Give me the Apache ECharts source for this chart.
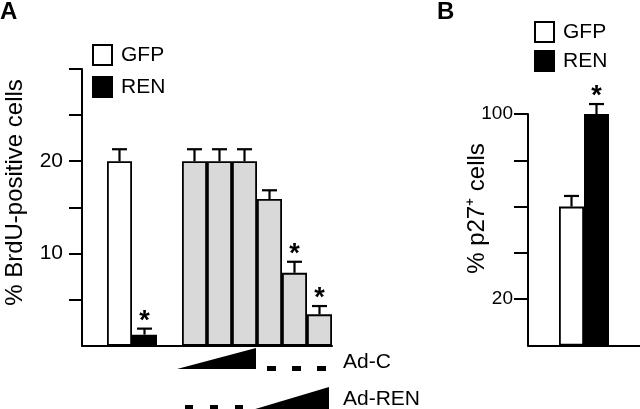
<!DOCTYPE html>
<html>
<head>
<meta charset="utf-8">
<script src="https://cdn.jsdelivr.net/npm/echarts@6/dist/echarts.min.js"></script>
<style>
html,body{margin:0;padding:0;background:#fff;}
#chart{width:640px;height:409px;}
</style>
</head>
<body>
<div id="chart"></div>
<script>
// ---------- Panel A data ----------
const categoriesA = ['', 'GFP', 'REN', '', 'Ad-C 1', 'Ad-C 2', 'Ad-C 3', 'Ad-REN 1', 'Ad-REN 2', 'Ad-REN 3'];
const groupA      = ['', 'GFP', 'REN', '', 'Ad', 'Ad', 'Ad', 'Ad', 'Ad', 'Ad'];
const valuesA     = [null, 20, 1.2, null, 20, 20, 20, 15.9, 7.9, 3.4];
const errorsA     = [null, 1.3, 0.65, null, 1.3, 1.3, 1.3, 0.95, 1.2, 0.9];
const sigA        = [0, 0, 1, 0, 0, 0, 0, 0, 1, 1];
const yTicksA     = [5, 10, 15, 20, 25, 30];
const yLabelsA    = [10, 20];

// ---------- Panel B data ----------
const categoriesB = ['GFP', 'REN'];
const valuesB     = [60, 100];
const errorsB     = [4.6, 4.3];
const sigB        = [0, 1];
const yTicksB     = [20, 40, 60, 80, 100];
const yLabelsB    = [20, 100];

const FONT = "'Liberation Sans', Arial, Helvetica, sans-serif";
const BAR_W = 25;

function seriesDataA(g) {
  return valuesA.map((v, i) => (groupA[i] === g && v != null) ? v : '-');
}
const errDataA = [];
valuesA.forEach((v, i) => { if (v != null) errDataA.push([i, v, errorsA[i], sigA[i], 0]); });
const errDataB = valuesB.map((v, i) => [0, v, errorsB[i], sigB[i], i - 0.5]);

function errRender(params, api) {
  const x = api.value(0), v = api.value(1), e = api.value(2), sig = api.value(3), side = api.value(4);
  const base = api.coord([x, v]);
  const top = api.coord([x, v + e]);
  const cx = base[0] + side * BAR_W;
  const children = [
    {type: 'line', shape: {x1: cx, y1: base[1], x2: cx, y2: top[1]}, style: {stroke: '#000', lineWidth: 2.2}},
    {type: 'line', shape: {x1: cx - 7.5, y1: top[1], x2: cx + 7.5, y2: top[1]}, style: {stroke: '#000', lineWidth: 2.2}}
  ];
  if (sig) {
    children.push({type: 'text', style: {text: '*', x: cx, y: top[1] - 14 + 7, align: 'center', verticalAlign: 'middle',
      fontSize: 27, fontWeight: 'bold', fontFamily: FONT, fill: '#000'}});
  }
  return {type: 'group', children: children};
}

const axisLineStyle = {show: true, lineStyle: {color: '#000', width: 2}};
const legendText = {fontSize: 21, color: '#000', fontFamily: FONT, padding: [0, 0, 0, 4], lineHeight: 20};

const chart = echarts.init(document.getElementById('chart'), null, {renderer: 'canvas'});
chart.setOption({
  animation: false,
  backgroundColor: '#fff',
  textStyle: {fontFamily: FONT},
  grid: [
    {left: 82, top: 69, width: 250, height: 276.7},
    {left: 528, top: 114, right: 0, height: 231.5}
  ],
  legend: [
    {data: ['GFP', 'REN'], orient: 'vertical', left: 92, top: 44, padding: 0, itemWidth: 19, itemHeight: 20, itemGap: 10,
     icon: 'rect', selectedMode: false, textStyle: legendText},
    {data: ['GFP', 'REN'], orient: 'vertical', left: 534, top: 21, padding: 0, itemWidth: 19, itemHeight: 20, itemGap: 7,
     icon: 'rect', selectedMode: false, textStyle: legendText}
  ],
  xAxis: [
    {type: 'category', gridIndex: 0, data: categoriesA, axisLine: axisLineStyle, axisTick: {show: false}, axisLabel: {show: false}},
    {type: 'category', gridIndex: 1, data: [''], axisLine: axisLineStyle, axisTick: {show: false}, axisLabel: {show: false}}
  ],
  yAxis: [
    {type: 'value', gridIndex: 0, min: 0, max: 30, interval: 5, axisLine: axisLineStyle, splitLine: {show: false},
     axisTick: {show: true, length: 13, lineStyle: {color: '#000', width: 2}, customValues: yTicksA},
     axisLabel: {margin: 19, fontSize: 21, color: '#000', fontFamily: FONT, customValues: yLabelsA}},
    {type: 'value', gridIndex: 1, min: 0, max: 100, interval: 20, axisLine: axisLineStyle, splitLine: {show: false},
     axisTick: {show: true, length: 14, lineStyle: {color: '#000', width: 2}, customValues: yTicksB},
     axisLabel: {margin: 15, fontSize: 19, color: '#000', fontFamily: FONT, customValues: yLabelsB}}
  ],
  series: [
    {name: 'GFP', type: 'bar', xAxisIndex: 0, yAxisIndex: 0, barWidth: BAR_W, barGap: '-100%', data: seriesDataA('GFP'),
     itemStyle: {color: '#fff', borderColor: '#000', borderWidth: 1.8}},
    {name: 'REN', type: 'bar', xAxisIndex: 0, yAxisIndex: 0, barWidth: BAR_W, barGap: '-100%', data: seriesDataA('REN'),
     itemStyle: {color: '#000', borderColor: '#000', borderWidth: 1.8}},
    {name: 'Ad', type: 'bar', xAxisIndex: 0, yAxisIndex: 0, barWidth: BAR_W, barGap: '-100%', data: seriesDataA('Ad'),
     itemStyle: {color: '#d9d9d9', borderColor: '#000', borderWidth: 1.8}},
    {name: 'errA', type: 'custom', xAxisIndex: 0, yAxisIndex: 0, data: errDataA, renderItem: errRender, z: 5},
    {name: 'GFP', type: 'bar', xAxisIndex: 1, yAxisIndex: 1, barWidth: BAR_W, barGap: '0%', data: [valuesB[0]],
     itemStyle: {color: '#fff', borderColor: '#000', borderWidth: 1.8}},
    {name: 'REN', type: 'bar', xAxisIndex: 1, yAxisIndex: 1, barWidth: BAR_W, barGap: '0%', data: [valuesB[1]],
     itemStyle: {color: '#000', borderColor: '#000', borderWidth: 1.8}},
    {name: 'errB', type: 'custom', xAxisIndex: 1, yAxisIndex: 1, data: errDataB, renderItem: errRender, z: 5}
  ],
  graphic: [
    {type: 'text', left: 0, top: 0, style: {text: 'A', font: 'bold 24px ' + FONT, fill: '#000'}},
    {type: 'text', left: 437, top: 0, style: {text: 'B', font: 'bold 24px ' + FONT, fill: '#000'}},
    {type: 'text', x: 15.5, y: 192.5, rotation: Math.PI / 2,
     style: {text: '% BrdU-positive cells', font: '24px ' + FONT, fill: '#000', align: 'center', verticalAlign: 'middle'}},
    {type: 'text', x: 477, y: 208.5, rotation: Math.PI / 2,
     style: {text: '% p27\u207A cells', font: '24px ' + FONT, fill: '#000', align: 'center', verticalAlign: 'middle'}},
    // dose ramps
    {type: 'polygon', shape: {points: [[177, 369], [256, 348], [256, 369]]}, style: {fill: '#000'}},
    {type: 'rect', shape: {x: 267, y: 366, width: 9, height: 5}, style: {fill: '#000'}},
    {type: 'rect', shape: {x: 292, y: 366, width: 9, height: 5}, style: {fill: '#000'}},
    {type: 'rect', shape: {x: 317, y: 366, width: 9, height: 5}, style: {fill: '#000'}},
    {type: 'text', x: 343, y: 362, style: {text: 'Ad-C', font: '21px ' + FONT, fill: '#000', verticalAlign: 'middle'}},
    {type: 'polygon', shape: {points: [[252, 410], [329, 387], [329, 410]]}, style: {fill: '#000'}},
    {type: 'rect', shape: {x: 185, y: 405, width: 8, height: 6}, style: {fill: '#000'}},
    {type: 'rect', shape: {x: 210, y: 405, width: 8, height: 6}, style: {fill: '#000'}},
    {type: 'rect', shape: {x: 235, y: 405, width: 8, height: 6}, style: {fill: '#000'}},
    {type: 'text', x: 343, y: 399, style: {text: 'Ad-REN', font: '21px ' + FONT, fill: '#000', verticalAlign: 'middle'}}
  ]
});
</script>
</body>
</html>
